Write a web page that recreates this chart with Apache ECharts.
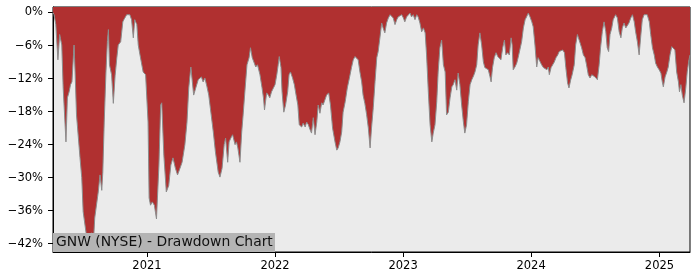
<!DOCTYPE html>
<html>
<head>
<meta charset="utf-8">
<script src="https://cdn.jsdelivr.net/npm/echarts@6/dist/echarts.min.js"></script>
<style>html,body{margin:0;padding:0;background:#fff}#c{width:700px;height:280px}</style>
</head>
<body>
<div id="c"></div>
<script>
const dates = [
'2020-04-08','2020-04-11','2020-04-16','2020-04-22','2020-04-27','2020-05-03','2020-05-07','2020-05-15','2020-05-19','2020-05-24',
'2020-05-28','2020-06-01','2020-06-07','2020-06-10','2020-06-14','2020-06-24','2020-06-29','2020-07-03','2020-07-11','2020-07-15',
'2020-07-20','2020-07-27','2020-07-31','2020-08-05','2020-08-15','2020-08-20','2020-08-25','2020-08-28','2020-09-01','2020-09-06',
'2020-09-10','2020-09-13','2020-09-16','2020-09-22','2020-09-27','2020-10-02','2020-10-07','2020-10-11','2020-10-18','2020-10-24',
'2020-10-27','2020-11-04','2020-11-13','2020-11-18','2020-11-23','2020-11-27','2020-12-03','2020-12-07','2020-12-12','2020-12-21',
'2020-12-28','2021-01-04','2021-01-07','2021-01-11','2021-01-16','2021-01-22','2021-01-28','2021-02-04','2021-02-09','2021-02-12',
'2021-02-18','2021-02-25','2021-03-04','2021-03-10','2021-03-16','2021-03-23','2021-03-29','2021-04-05','2021-04-11','2021-04-19',
'2021-04-25','2021-04-30','2021-05-06','2021-05-10','2021-05-14','2021-05-20','2021-05-27','2021-06-05','2021-06-10','2021-06-15',
'2021-06-21','2021-06-26','2021-07-02','2021-07-09','2021-07-15','2021-07-23','2021-07-28','2021-08-03','2021-08-09','2021-08-13',
'2021-08-19','2021-08-23','2021-08-28','2021-09-02','2021-09-09','2021-09-13','2021-09-17','2021-09-23','2021-09-28','2021-10-02',
'2021-10-07','2021-10-13','2021-10-19','2021-10-23','2021-10-28','2021-11-02','2021-11-07','2021-11-12','2021-11-19','2021-11-25',
'2021-11-29','2021-12-02','2021-12-08','2021-12-13','2021-12-17','2021-12-22','2021-12-27','2022-01-01','2022-01-06','2022-01-10',
'2022-01-13','2022-01-18','2022-01-21','2022-01-26','2022-01-31','2022-02-06','2022-02-10','2022-02-14','2022-02-20','2022-02-25',
'2022-03-02','2022-03-07','2022-03-11','2022-03-18','2022-03-22','2022-03-28','2022-04-01','2022-04-06','2022-04-11','2022-04-15',
'2022-04-20','2022-04-25','2022-04-30','2022-05-04','2022-05-09','2022-05-14','2022-05-18','2022-05-23','2022-05-28','2022-06-03',
'2022-06-08','2022-06-14','2022-06-21','2022-06-26','2022-06-30','2022-07-05','2022-07-10','2022-07-14','2022-07-20','2022-07-26',
'2022-08-01','2022-08-07','2022-08-12','2022-08-17','2022-08-22','2022-08-26','2022-08-31','2022-09-05','2022-09-09','2022-09-14',
'2022-09-19','2022-09-24','2022-09-29','2022-10-03','2022-10-08','2022-10-13','2022-10-18','2022-10-22','2022-10-27','2022-11-01',
'2022-11-05','2022-11-10','2022-11-15','2022-11-20','2022-11-25','2022-11-29','2022-12-04','2022-12-09','2022-12-14','2022-12-18',
'2022-12-23','2022-12-28','2023-01-02','2023-01-06','2023-01-11','2023-01-16','2023-01-21','2023-01-25','2023-01-30','2023-02-04',
'2023-02-09','2023-02-13','2023-02-18','2023-02-23','2023-02-28','2023-03-05','2023-03-09','2023-03-14','2023-03-19','2023-03-24',
'2023-03-28','2023-04-02','2023-04-07','2023-04-11','2023-04-16','2023-04-21','2023-04-26','2023-05-01','2023-05-05','2023-05-10',
'2023-05-15','2023-05-20','2023-05-24','2023-05-29','2023-06-03','2023-06-07','2023-06-12','2023-06-17','2023-06-22','2023-06-26',
'2023-07-01','2023-07-06','2023-07-11','2023-07-16','2023-07-21','2023-07-25','2023-07-30','2023-08-03','2023-08-08','2023-08-13',
'2023-08-18','2023-08-22','2023-08-27','2023-09-01','2023-09-06','2023-09-09','2023-09-13','2023-09-18','2023-09-23','2023-09-28',
'2023-10-03','2023-10-07','2023-10-12','2023-10-17','2023-10-21','2023-10-26','2023-10-31','2023-11-05','2023-11-08','2023-11-11',
'2023-11-16','2023-11-21','2023-11-25','2023-11-30','2023-12-05','2023-12-10','2023-12-15','2023-12-19','2023-12-24','2023-12-29',
'2024-01-03','2024-01-07','2024-01-12','2024-01-17','2024-01-21','2024-01-26','2024-01-31','2024-02-05','2024-02-10','2024-02-15',
'2024-02-19','2024-02-22','2024-02-27','2024-03-03','2024-03-07','2024-03-12','2024-03-17','2024-03-21','2024-03-26','2024-03-31',
'2024-04-05','2024-04-09','2024-04-14','2024-04-18','2024-04-23','2024-04-27','2024-05-03','2024-05-07','2024-05-12','2024-05-17',
'2024-05-24','2024-05-29','2024-06-03','2024-06-07','2024-06-12','2024-06-17','2024-06-22','2024-06-26','2024-07-01','2024-07-08',
'2024-07-13','2024-07-17','2024-07-22','2024-07-27','2024-08-01','2024-08-05','2024-08-09','2024-08-13','2024-08-18','2024-08-22',
'2024-08-29','2024-09-03','2024-09-08','2024-09-13','2024-09-17','2024-09-22','2024-09-27','2024-10-02','2024-10-06','2024-10-11',
'2024-10-16','2024-10-21','2024-10-25','2024-10-30','2024-11-04','2024-11-09','2024-11-13','2024-11-18','2024-11-23','2024-11-27',
'2024-12-03','2024-12-07','2024-12-12','2024-12-17','2024-12-21','2024-12-26','2024-12-31','2025-01-05','2025-01-09','2025-01-12',
'2025-01-17','2025-01-22','2025-01-26','2025-01-31','2025-02-05','2025-02-09','2025-02-14','2025-02-19','2025-02-24','2025-02-27',
'2025-03-03','2025-03-07','2025-03-12','2025-03-17','2025-03-21','2025-03-26','2025-03-29'
];
const drawdown = [
0,-0.4,-2.2,-8.6,-4.0,-5.9,-13.7,-23.5,-15.5,-14.4,
-13.1,-12.6,-5.9,-10.8,-18.6,-26.4,-30.0,-36.2,-39.9,-42.8,
-41.0,-40.0,-43.2,-37.3,-32.6,-29.5,-32.3,-29.0,-19.9,-10.8,
-5.3,-3.1,-9.5,-11.3,-16.5,-11.5,-8.2,-5.9,-5.3,-1.7,
-1.3,-0.4,-0.4,-1.3,-4.6,-1.3,-2.2,-5.9,-7.7,-10.8,
-11.3,-19.9,-33.7,-35.0,-34.4,-35.0,-37.5,-27.7,-16.8,-16.4,
-25.9,-32.6,-31.4,-27.7,-26.4,-28.3,-29.5,-28.3,-27.2,-24.0,
-19.9,-13.7,-9.9,-10.0,-15.0,-13.7,-12.2,-11.7,-12.6,-11.9,
-13.5,-15.0,-18.1,-21.7,-25.3,-29.0,-29.9,-28.3,-24.0,-22.8,
-27.2,-23.5,-22.8,-22.2,-24.0,-23.5,-24.6,-27.2,-21.7,-18.6,
-14.4,-9.5,-8.2,-6.4,-8.2,-8.0,-9.9,-9.5,-11.3,-13.7,
-15.5,-17.7,-14.6,-15.0,-15.5,-14.4,-14.1,-13.1,-11.3,-9.5,
-8.0,-10.0,-14.4,-18.1,-16.8,-14.4,-11.3,-10.8,-11.9,-13.1,
-15.0,-16.8,-20.4,-20.8,-20.1,-20.8,-19.9,-20.4,-21.3,-21.9,
-19.1,-22.2,-19.9,-16.8,-18.3,-16.4,-16.8,-15.9,-15.0,-14.6,
-16.8,-21.0,-23.5,-25.0,-24.6,-23.5,-21.7,-18.1,-16.2,-13.7,
-11.9,-10.0,-8.6,-8.0,-8.2,-8.6,-10.8,-12.6,-15.0,-16.5,
-18.5,-21.0,-24.6,-21.0,-17.3,-12.6,-8.2,-7.1,-4.6,-1.9,
-2.8,-3.7,-1.9,-1.0,-0.4,-0.1,-1.0,-2.2,-1.3,-0.8,
-1.0,-0.4,-1.0,-1.7,-0.8,-1.0,-0.1,-0.8,-0.4,-1.3,
-0.4,-0.8,-1.9,-3.5,-2.8,-3.7,-7.7,-14.4,-20.4,-23.5,
-21.9,-20.4,-16.2,-10.8,-6.4,-5.0,-9.5,-10.8,-18.6,-18.1,
-15.5,-13.5,-13.1,-12.2,-14.1,-11.0,-13.1,-16.8,-19.9,-21.9,
-20.4,-16.2,-13.1,-12.2,-11.5,-10.8,-9.5,-5.9,-3.7,-5.9,
-9.0,-10.0,-9.9,-10.4,-11.7,-12.6,-10.0,-8.2,-7.3,-8.0,
-7.7,-8.6,-6.4,-5.0,-7.7,-7.3,-7.7,-4.6,-5.9,-10.4,
-9.9,-9.2,-8.2,-8.0,-5.3,-2.8,-1.3,-0.8,-0.1,-0.8,
-1.7,-2.6,-5.9,-9.9,-8.2,-8.0,-9.5,-10.0,-9.9,-10.4,
-9.9,-11.3,-10.0,-9.9,-9.0,-8.2,-7.7,-7.1,-7.1,-6.8,
-7.3,-10.0,-12.8,-13.7,-12.2,-11.3,-9.5,-5.9,-4.0,-3.7,
-6.4,-7.7,-8.2,-9.5,-11.3,-11.9,-11.3,-11.0,-11.7,-12.2,
-9.5,-6.4,-3.5,-1.7,-3.5,-6.4,-7.1,-4.0,-2.8,-1.3,
-0.4,-1.0,-3.5,-4.6,-2.8,-1.9,-2.8,-2.6,-1.9,-1.0,
-0.4,-1.7,-3.5,-5.3,-7.7,-4.0,-1.3,-0.4,-0.1,-0.4,
-1.7,-4.0,-6.4,-7.7,-9.2,-9.9,-10.4,-11.0,-12.6,-13.5,
-11.7,-10.8,-9.9,-7.7,-6.2,-5.9,-6.8,-10.8,-12.6,-14.4,
-13.1,-15.0,-16.4,-13.7,-10.8,-8.6,-7.7
];
const yTicks = [0,-6,-12,-18,-24,-30,-36,-42];
const xTickYears = ['2021-01-01','2022-01-01','2023-01-01','2024-01-01','2025-01-01'];
const xStart = '2020-04-08';
const xEnd = '2025-03-29';
const titleText = 'GNW (NYSE) - Drawdown Chart';

const ts = d => Date.UTC(+d.slice(0,4), +d.slice(5,7) - 1, +d.slice(8,10));
const xTickVals = xTickYears.map(ts);
const seriesData = dates.map((d, i) => [ts(d), drawdown[i]]);

const chart = echarts.init(document.getElementById('c'), null, {renderer: 'canvas'});
const font = 'DejaVu Sans';
chart.setOption({
  animation: false,
  grid: {left: 53, right: 10, top: 7, bottom: 28, show: true, backgroundColor: '#ebebeb', borderColor: '#000', borderWidth: 1},
  xAxis: {
    type: 'value', min: ts(xStart), max: ts(xEnd), scale: true,
    axisLine: {show: true, onZero: false, lineStyle: {color: '#000', width: 1}},
    axisTick: {show: true, length: 5, lineStyle: {color: '#000'}, customValues: xTickVals},
    axisLabel: {customValues: xTickVals, color: '#000', fontFamily: font, fontSize: 11.5, margin: 8,
      formatter: v => String(new Date(v).getUTCFullYear())},
    splitLine: {show: false}
  },
  yAxis: {
    type: 'value', min: -43.5, max: 1.0,
    axisLine: {show: true, onZero: false, lineStyle: {color: '#000', width: 1}},
    axisTick: {show: true, length: 5, lineStyle: {color: '#000'}, customValues: yTicks},
    axisLabel: {customValues: yTicks, color: '#000', fontFamily: font, fontSize: 11.5, margin: 10,
      formatter: v => (v < 0 ? '\u2212' : '') + Math.abs(v) + '%'},
    splitLine: {show: false}
  },
  series: [{
    type: 'line', data: seriesData, showSymbol: false, symbol: 'none',
    lineStyle: {color: '#8c8c8c', width: 1},
    areaStyle: {color: '#b03030', opacity: 1, origin: 'end'}
  }],
  graphic: [
    {type: 'rect', left: 53, top: 233, shape: {width: 222, height: 19}, style: {fill: '#b4b4b4'}, z: 100},
    {type: 'text', x: 56, y: 242.5, style: {text: titleText, font: '13.9px DejaVu Sans', fill: '#111', verticalAlign: 'middle', align: 'left'}, z: 101}
  ]
});
</script>
</body>
</html>
